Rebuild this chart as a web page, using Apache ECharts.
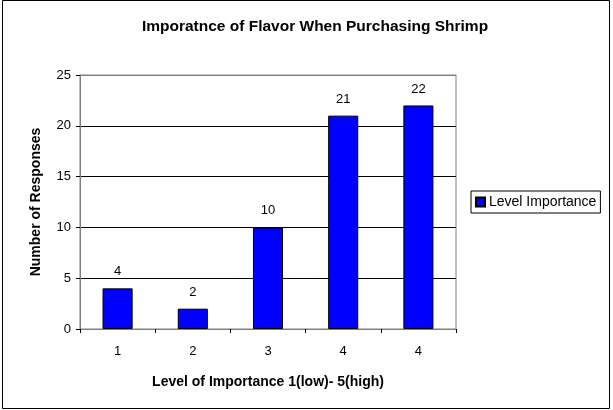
<!DOCTYPE html>
<html>
<head>
<meta charset="utf-8">
<script src="https://cdn.jsdelivr.net/npm/echarts@6/dist/echarts.min.js"></script>
<style>
  html, body { margin: 0; padding: 0; background: #fff; }
  #main { width: 613px; height: 410px; }
</style>
</head>
<body>
<div id="main"></div>
<script>
var categories = ['1', '2', '3', '4', '4'];
var responses = [4, 2, 10, 21, 22];
var seriesName = 'Level Importance';

var chart = echarts.init(document.getElementById('main'));
var font = 'Arial, "Liberation Sans", sans-serif';

var option = {
  backgroundColor: '#fff',
  animation: false,
  textStyle: { fontFamily: font },
  title: {
    text: 'Imporatnce of Flavor When Purchasing Shrimp',
    left: 310,
    textAlign: 'center',
    top: 14,
    textStyle: { fontSize: 15.5, fontWeight: 'bold', color: '#000', fontFamily: font }
  },
  legend: {
    left: 471,
    top: 191,
    orient: 'vertical',
    borderColor: '#000',
    borderWidth: 1,
    padding: [4, 4, 4, 4],
    itemWidth: 9,
    itemHeight: 9,
    itemGap: 0,
    icon: 'rect',
    textStyle: { fontSize: 14, color: '#000', fontFamily: font, padding: [0, 0, 0, -1] },
    data: [seriesName]
  },
  grid: {
    left: 80, right: 157, top: 75, bottom: 81,
    show: true,
    borderColor: '#808080',
    borderWidth: 1,
    backgroundColor: '#fff'
  },
  xAxis: {
    type: 'category',
    data: categories,
    name: 'Level of Importance 1(low)- 5(high)',
    nameLocation: 'middle',
    nameGap: 46,
    nameTextStyle: { fontSize: 14, fontWeight: 'bold', color: '#000' },
    axisLine: { lineStyle: { color: '#808080', width: 1 } },
    axisTick: { show: true, length: 4, lineStyle: { color: '#000' } },
    axisLabel: { fontSize: 13, color: '#000', margin: 16 }
  },
  yAxis: {
    type: 'value',
    min: 0,
    max: 25,
    interval: 5,
    name: 'Number of Responses',
    nameLocation: 'middle',
    nameGap: 37,
    nameTextStyle: { fontSize: 14, fontWeight: 'bold', color: '#000' },
    axisLine: { show: true, lineStyle: { color: '#808080', width: 1 } },
    axisTick: { show: true, length: 4, lineStyle: { color: '#000' } },
    axisLabel: { fontSize: 13, color: '#000', margin: 9 },
    splitLine: { show: true, lineStyle: { color: ['#808080', '#000', '#000', '#000', '#000', '#808080'], width: 1 } }
  },
  series: [{
    name: seriesName,
    type: 'bar',
    data: responses,
    barWidth: '40%',
    itemStyle: { color: '#0000ff', borderColor: '#000', borderWidth: 1 },
    label: { show: true, position: 'top', distance: 10, fontSize: 13, color: '#000' }
  }],
  graphic: [{
    type: 'rect',
    shape: { x: 2.5, y: 0.5, width: 607, height: 408 },
    style: { fill: 'none', stroke: '#000', lineWidth: 1 },
    silent: true
  }]
};

chart.setOption(option);
</script>
</body>
</html>
